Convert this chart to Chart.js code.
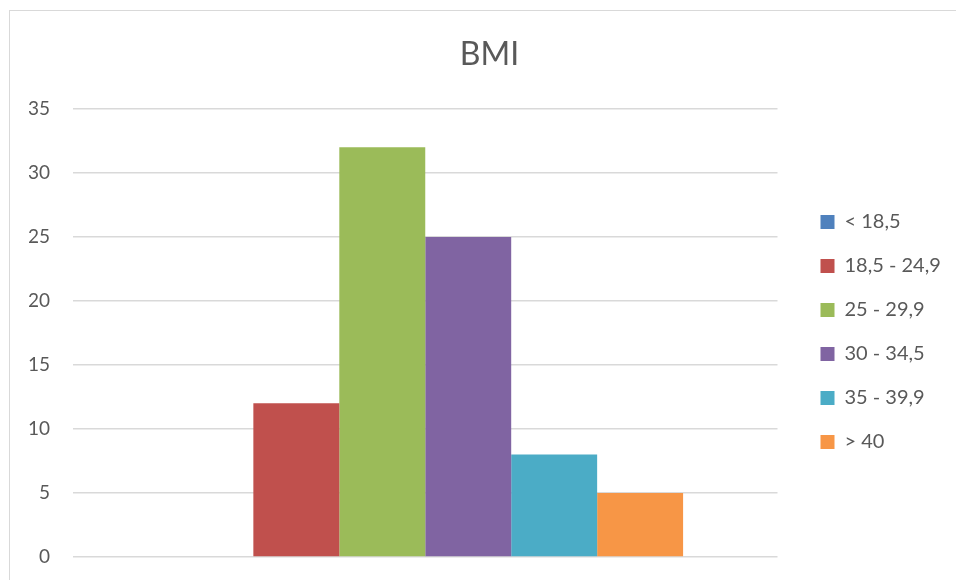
<!DOCTYPE html>
<html>
<head>
<meta charset="utf-8">
<script src="https://cdn.jsdelivr.net/npm/chart.js@4"></script>
<style>
  html, body { margin: 0; padding: 0; background: #fff; overflow: hidden; }
  #frame { position: absolute; left: 9px; top: 10px; width: 1000px; height: 1000px; border: 1px solid #d9d9d9; }
  #wrap { position: absolute; left: 0; top: 0; width: 956px; height: 580px; }
</style>
</head>
<body>
<div id="frame"></div>
<div id="wrap"><canvas id="bmi"></canvas></div>
<script>
// Datos
const categorias = [""];
const rangos = ["< 18,5", "18,5 - 24,9", "25 - 29,9", "30 - 34,5", "35 - 39,9", "> 40"];
const valores = [0, 12, 32, 25, 8, 5];
const colores = ["#4F81BD", "#C0504D", "#9BBB59", "#8064A2", "#4BACC6", "#F79646"];

const gris = "#595959";
const fuente = "Lato, 'Open Sans', sans-serif";

// Un dataset por rango, para que salga cada uno en la leyenda
const datasets = rangos.map((r, i) => ({
  label: r,
  data: [valores[i]],
  backgroundColor: colores[i],
  borderWidth: 0,
  categoryPercentage: 0.732,
  barPercentage: 1,
}));

new Chart(document.getElementById("bmi"), {
  type: "bar",
  data: { labels: categorias, datasets: datasets },
  options: {
    responsive: true,
    maintainAspectRatio: false,
    animation: false,
    layout: { padding: { left: 29, right: 6, top: 35, bottom: 23 } },
    plugins: {
      title: {
        display: true,
        text: "BMI",
        color: gris,
        font: { family: fuente, size: 32, weight: "normal" },
        padding: { top: 0, bottom: 35.5 },
      },
      legend: {
        position: "right",
        // título vacío solo para bajar la leyenda
        title: { display: true, text: "", font: { size: 10, lineHeight: 1 }, padding: { top: 62, bottom: 0 } },
        labels: {
          color: gris,
          font: { family: fuente, size: 20 },
          boxWidth: 14,
          boxHeight: 14,
          padding: 24,
        },
      },
      tooltip: { enabled: false },
    },
    scales: {
      x: {
        display: false,
        grid: { display: false },
      },
      y: {
        min: 0,
        max: 35,
        ticks: {
          stepSize: 5,
          color: gris,
          font: { family: fuente, size: 19 },
          padding: 0,
        },
        // marca de tick invisible para separar los números de la rejilla
        grid: { color: "#d9d9d9", lineWidth: 1.5, drawTicks: true, tickLength: 23, tickColor: "transparent" },
        border: { display: false },
        afterFit: (s) => { s.width = 44; },
      },
      // eje vacío a la derecha, solo para dejar hueco antes de la leyenda
      y2: {
        position: "right",
        display: true,
        ticks: { display: false },
        grid: { display: false },
        border: { display: false },
        afterFit: (s) => { s.width = 19; },
      },
    },
  },
});
</script>
</body>
</html>
